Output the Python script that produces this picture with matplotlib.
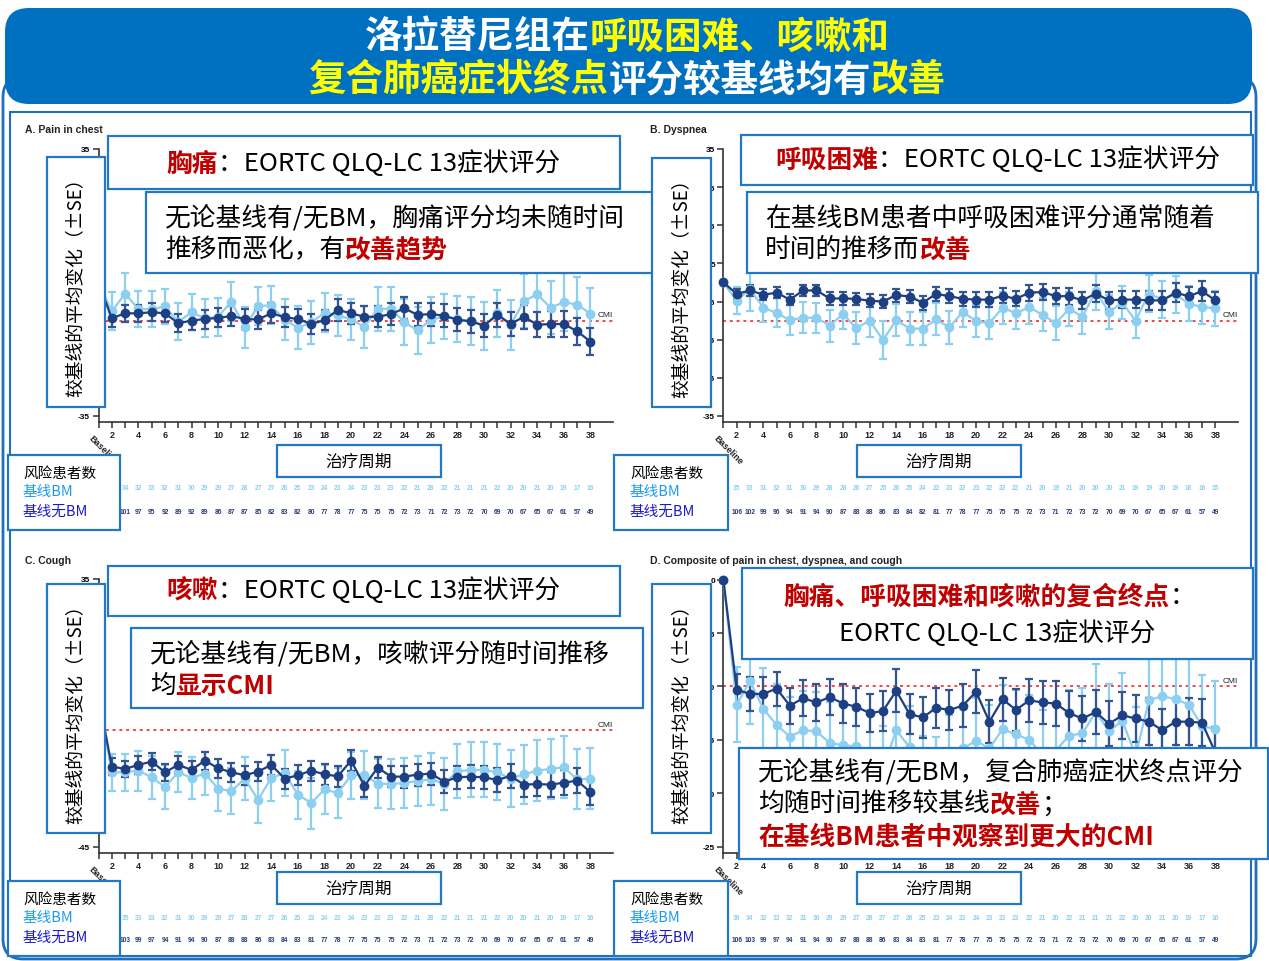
import numpy as np
import matplotlib
matplotlib.use("Agg")
import matplotlib.pyplot as plt
from matplotlib import transforms
from matplotlib.patches import FancyBboxPatch, Rectangle

plt.rcParams["font.family"] = ["Noto Sans CJK SC", "DejaVu Sans"]

# ---- data ----
cycles = np.arange(1, 39)  # 1 = Baseline, then cycles 2..38

pain_bm = [0, -7.6, -2.9, -7.0, -7.0, -6.3, -10.3, -7.8, -9.4, -9.0, -5.0, -11.8, -6.2, -6.0, -9.8, -11.9,
           -10.5, -7.9, -8.6, -9.7, -11.7, -7.0, -6.9, -10.4, -12.6, -9.8, -8.9, -9.6, -10.1, -11.4, -8.1,
           -11.1, -4.9, -3.1, -6.6, -5.2, -5.8, -8.2]
pain_bm_se = [0, 5.0, 5.4, 4.8, 4.8, 4.6, 4.8, 4.8, 5.0, 5.0, 5.2, 5.4, 5.0, 5.0, 5.4, 5.6, 5.6, 5.2, 5.4, 5.4,
              5.6, 5.8, 5.8, 6.0, 6.2, 6.0, 6.0, 6.0, 6.2, 6.4, 6.2, 6.6, 7.0, 7.4, 7.0, 7.6, 7.2, 6.8]
pain_nobm = [0, -9.4, -8.1, -8.1, -7.8, -8.1, -10.7, -10.0, -9.6, -9.3, -8.8, -9.6, -9.7, -8.1, -9.1, -9.6,
             -10.9, -9.9, -7.2, -8.1, -9.0, -9.0, -8.3, -6.8, -8.5, -8.3, -8.7, -9.8, -10.2, -11.3, -8.5,
             -10.9, -9.0, -11.1, -10.9, -10.9, -12.8, -15.5]
pain_nobm_se = [0, 2.4, 2.3, 2.3, 2.3, 2.3, 2.4, 2.4, 2.5, 2.5, 2.5, 2.6, 2.6, 2.6, 2.6, 2.7, 2.7, 2.7, 2.8, 2.8,
                2.8, 2.8, 2.9, 2.9, 3.0, 3.0, 3.0, 3.0, 3.1, 3.1, 3.1, 3.2, 3.2, 3.3, 3.3, 3.4, 3.5, 3.6]

dysp_bm = [0, -4.8, -1.8, -6.6, -8.0, -9.9, -9.2, -9.3, -11.3, -8.3, -12.0, -10.0, -15.1, -9.9, -12.1, -12.1,
           -9.7, -11.8, -7.7, -10.2, -10.7, -6.6, -8.1, -6.5, -8.5, -10.7, -6.9, -9.0, -2.3, -7.8, -5.3,
           -10.0, -2.9, -4.5, -3.1, -5.6, -6.4, -6.8]
dysp_bm_se = [0, 3.5, 5.7, 3.9, 3.8, 3.9, 4.0, 4.0, 4.2, 4.0, 4.2, 4.4, 5.1, 4.2, 4.4, 4.4, 4.2, 4.4, 4.0, 4.2,
              4.2, 4.2, 4.2, 4.3, 4.3, 4.4, 4.4, 4.5, 4.8, 4.5, 4.4, 4.6, 4.8, 4.8, 4.8, 4.6, 4.6, 4.5]
dysp_nobm = [0, -3.0, -2.1, -3.2, -2.7, -4.5, -2.1, -2.1, -4.2, -4.2, -4.3, -4.8, -5.0, -3.3, -3.7, -5.3,
             -3.0, -3.6, -4.3, -4.5, -4.5, -3.5, -4.3, -2.7, -2.5, -3.6, -3.6, -4.7, -2.9, -4.7, -4.5,
             -4.5, -4.7, -4.7, -2.7, -3.6, -2.3, -4.7]
dysp_nobm_se = [0, 1.3, 1.4, 1.4, 1.5, 1.5, 1.5, 1.5, 1.6, 1.6, 1.6, 1.7, 1.7, 1.7, 1.8, 1.8, 1.8, 1.9, 1.9, 1.9,
                1.9, 2.0, 2.0, 2.1, 2.1, 2.1, 2.2, 2.2, 2.2, 2.3, 2.3, 2.3, 2.4, 2.4, 2.5, 2.5, 2.6, 2.3]

cough_bm = [0, -22.7, -22.7, -22.2, -24.2, -27.1, -22.7, -24.4, -23.1, -27.6, -28.3, -24.6, -30.9, -24.4,
            -22.9, -29.4, -31.9, -27.8, -28.9, -23.6, -23.4, -26.1, -26.2, -25.9, -25.3, -24.8, -26.1,
            -22.4, -22.0, -22.0, -22.7, -24.6, -23.3, -22.2, -21.7, -21.2, -24.8, -24.6]
cough_bm_se = [0, 5.5, 5.5, 6.0, 6.5, 6.5, 6.0, 6.2, 6.5, 6.8, 6.8, 6.5, 7.0, 6.8, 6.8, 7.2, 7.6, 7.4, 7.4, 7.0,
               7.2, 7.4, 7.4, 7.6, 7.6, 7.8, 7.8, 8.0, 8.2, 8.2, 8.4, 8.6, 8.8, 9.0, 9.0, 9.2, 9.0, 9.0]
cough_nobm = [0, -21.0, -21.7, -20.5, -19.5, -22.7, -20.5, -22.0, -19.2, -21.5, -22.7, -23.6, -22.5, -20.5,
              -24.6, -23.6, -22.2, -23.3, -23.9, -19.2, -26.8, -21.3, -24.0, -24.0, -23.4, -23.1, -25.5,
              -24.2, -24.0, -24.2, -25.0, -23.8, -26.4, -26.2, -26.4, -25.8, -25.2, -28.6]
cough_nobm_se = [0, 2.5, 2.5, 2.6, 2.6, 2.6, 2.6, 2.7, 2.7, 2.8, 2.8, 2.8, 2.9, 2.9, 3.0, 3.0, 3.0, 3.1, 3.1, 3.1,
                 3.2, 3.2, 3.2, 3.3, 3.3, 3.3, 3.4, 3.4, 3.4, 3.5, 3.5, 3.5, 3.6, 3.6, 3.7, 3.7, 3.8, 4.0]

comp_bm = [0, -11.7, -9.5, -12.1, -13.6, -14.7, -14.1, -14.2, -15.3, -15.5, -15.6, -16.1, -17.7, -14.1,
           -15.7, -18.3, -18.7, -16.7, -15.8, -15.1, -15.8, -14.0, -14.5, -15.0, -16.4, -16.0, -14.6,
           -14.4, -12.4, -14.2, -13.2, -16.5, -11.3, -10.9, -11.2, -11.7, -13.7, -14.0]
comp_bm_se = [0, 3.5, 4.0, 3.8, 3.8, 3.7, 3.7, 3.7, 3.8, 3.8, 3.8, 3.9, 4.0, 3.9, 3.9, 3.7, 4.0, 4.0, 4.0, 4.0,
              4.1, 4.1, 4.2, 4.2, 4.2, 4.3, 4.3, 4.3, 4.5, 4.4, 4.5, 4.6, 5.0, 5.0, 5.0, 5.0, 4.8, 4.5]
comp_nobm = [0, -10.3, -10.7, -10.7, -10.2, -11.8, -11.1, -11.5, -11.0, -11.6, -11.9, -12.5, -12.3, -10.4,
             -12.6, -12.9, -12.0, -12.2, -11.8, -10.5, -13.3, -11.2, -12.2, -11.3, -11.5, -11.6, -12.5,
             -13.0, -12.4, -13.5, -12.7, -13.0, -13.3, -14.1, -13.3, -13.3, -13.4, -16.2]
comp_nobm_se = [0, 1.5, 1.6, 1.6, 1.6, 1.7, 1.7, 1.7, 1.7, 1.8, 1.8, 1.8, 1.9, 2.0, 1.9, 1.9, 1.9, 1.9, 2.0, 2.0,
                2.0, 2.0, 2.0, 2.0, 2.0, 2.1, 2.1, 2.1, 2.1, 2.1, 2.2, 2.2, 2.2, 2.0, 2.2, 2.2, 2.2, 2.4]

# patients at risk (visible part, ending at cycle 38)
pain_n_bm = [34, 32, 33, 32, 31, 30, 29, 29, 27, 28, 27, 27, 26, 25, 23, 24, 23, 24, 23, 23, 23, 22, 21, 28,
             22, 21, 21, 21, 22, 20, 20, 21, 20, 19, 17, 16]
pain_n_nobm = [101, 97, 95, 92, 89, 92, 89, 86, 87, 87, 85, 82, 83, 82, 80, 77, 78, 77, 75, 75, 75, 72, 73, 71,
               72, 73, 72, 70, 69, 70, 67, 65, 67, 61, 57, 49]
dysp_n_bm = [35, 33, 31, 32, 31, 30, 29, 28, 28, 26, 27, 25, 26, 25, 24, 22, 23, 22, 23, 22, 22, 22, 21, 20,
             19, 21, 20, 20, 20, 21, 19, 19, 20, 19, 18, 16, 15]
dysp_n_nobm = [106, 102, 99, 96, 94, 91, 94, 90, 87, 88, 88, 86, 83, 84, 82, 81, 77, 78, 77, 75, 75, 75, 72,
               73, 71, 72, 73, 72, 70, 69, 70, 67, 65, 67, 61, 57, 49]
cough_n_bm = [35, 33, 33, 32, 31, 30, 29, 29, 27, 28, 27, 27, 26, 25, 23, 24, 23, 24, 23, 23, 23, 22, 21, 28,
              22, 21, 21, 21, 22, 20, 20, 21, 20, 19, 17, 16]
cough_n_nobm = [103, 99, 97, 94, 91, 94, 90, 87, 88, 88, 86, 83, 84, 83, 81, 77, 78, 77, 75, 75, 75, 72, 73,
                71, 72, 73, 72, 70, 69, 70, 67, 65, 67, 61, 57, 49]
comp_n_bm = [36, 34, 32, 33, 32, 31, 30, 29, 29, 27, 28, 27, 27, 26, 25, 23, 24, 23, 24, 23, 23, 23, 22, 21,
             20, 22, 21, 21, 21, 22, 20, 20, 21, 20, 19, 17, 16]
comp_n_nobm = [106, 103, 99, 97, 94, 91, 94, 90, 87, 88, 88, 86, 83, 84, 83, 81, 77, 78, 77, 75, 75, 75, 72,
               73, 71, 72, 73, 72, 70, 69, 70, 67, 65, 67, 61, 57, 49]

cmi = -10

# ---- colours ----
DARK = "#1D3F84"
DARK_E = "#34558F"
LIGHT = "#8DCFF0"
RED = "#C00000"
BOXC = "#2277C7"
BANNER = "#0070C0"
C_BM = "#1A9BF0"
C_NOBM = "#1A1ACD"
EN = "Liberation Sans"

W, H = 1269, 962
fig = plt.figure(figsize=(W / 100, H / 100), dpi=100)
px = transforms.Affine2D().scale(1 / W, -1 / H).translate(0, 1) + fig.transFigure
rend = fig.canvas.get_renderer()


def box(x0, y0, x1, y1, z=1):
    fig.add_artist(Rectangle((x0, y0), x1 - x0, y1 - y0, transform=px, fc="white",
                             ec=BOXC, lw=1.6, zorder=z))


def rich(x, y, parts, size, ha="left"):
    arts, widths = [], []
    for s, c, w in parts:
        t = fig.text(0, 0, s, transform=px, fontsize=size, color=c, weight=w, va="center", ha="left")
        arts.append(t)
        widths.append(t.get_window_extent(rend).width)
    x0 = x - sum(widths) / 2 if ha == "center" else x
    for t, w in zip(arts, widths):
        t.set_position((x0, y))
        x0 += w


def panel(rect, ylim, yticks, shown, bm, bm_se, nobm, nobm_se, n_bm, n_nobm, row_y, title, title_xy):
    x0, y0, x1, y1 = rect
    ax = fig.add_axes([x0 / W, 1 - y1 / H, (x1 - x0) / W, (y1 - y0) / H])
    ax.axhline(cmi, color="#F04848", lw=1.4, ls=(0, (1.5, 2)), zorder=1)
    for y, e, col, ecol in [(bm, bm_se, LIGHT, LIGHT), (nobm, nobm_se, DARK, DARK_E)]:
        cont = ax.errorbar(cycles, y, yerr=e, fmt="-o", color=col, ecolor=ecol, ms=6, lw=1.6,
                           elinewidth=1.6, capsize=3.2, capthick=1.6, zorder=3)
        for a in cont.get_children():
            a.set_clip_on(False)
    ax.set_xlim(1, 39.7)
    ax.set_ylim(*ylim)
    ax.set_yticks(yticks)
    ax.set_yticklabels([str(v) if v in shown else "" for v in yticks],
                       fontsize=6, weight="bold", family=EN)
    ax.set_xticks(cycles)
    ax.set_xticklabels(["" if (c % 2 or c == 1) else str(c) for c in cycles],
                       fontsize=6.5, weight="bold", family=EN, color="#222222")
    for s in ["top", "right"]:
        ax.spines[s].set_visible(False)
    for s in ["left", "bottom"]:
        ax.spines[s].set_color("#333333")
        ax.spines[s].set_linewidth(1.2)
    ax.tick_params(direction="out", length=4, width=1.1, color="#333333", pad=2)
    ax.patch.set_alpha(0)
    ax.annotate("CMI", xy=(39.7, cmi), xytext=(0, 1.5), textcoords="offset points", ha="right",
                va="bottom", fontsize=6, family=EN, color="#222222")
    blend = transforms.blended_transform_factory(ax.transData, px)
    ax.text(0.4, y1 + 14, "Baseline", transform=blend, rotation=-45, rotation_mode="anchor",
            ha="left", va="center", fontsize=6.5, weight="bold", family=EN, color="#222222")
    for vals, ry, col in [(n_bm, row_y[0], "#8FCFF0"), (n_nobm, row_y[1], "#2A3E78")]:
        for c, v in zip(cycles[-len(vals):], vals):
            ax.text(c, ry, str(v), transform=blend, ha="center", va="center", fontsize=4.8,
                    weight="bold", family=EN, color=col)
    fig.text(title_xy[0], title_xy[1], title, transform=px, fontsize=7.5, weight="bold",
             family=EN, va="center", color="#222222")
    return ax


ticks_ab = [35, 25, 15, 5, -5, -15, -25, -35]
panel((98.5, 150, 613, 423), (-36.6, 35), ticks_ab, [35, -35],
      pain_bm, pain_bm_se, pain_nobm, pain_nobm_se, pain_n_bm, pain_n_nobm, (489, 512),
      "A. Pain in chest", (25, 130))
panel((723.4, 150, 1238, 423), (-36.6, 35), ticks_ab, ticks_ab,
      dysp_bm, dysp_bm_se, dysp_nobm, dysp_nobm_se, dysp_n_bm, dysp_n_nobm, (489, 512),
      "B. Dyspnea", (650, 130))
panel((98.5, 580, 613, 854), (-46.8, 35), [35, 25, 15, 5, -5, -15, -25, -35, -45], [35, -45],
      cough_bm, cough_bm_se, cough_nobm, cough_nobm_se, cough_n_bm, cough_n_nobm, (919, 941),
      "C. Cough", (25, 561))
panel((723.4, 580.7, 1238, 854), (-25.6, 0), [0, -5, -10, -15, -20, -25], [0, -5, -10, -15, -20, -25],
      comp_bm, comp_bm_se, comp_nobm, comp_nobm_se, comp_n_bm, comp_n_nobm, (919, 941),
      "D. Composite of pain in chest, dyspnea, and cough", (650, 561))

# ---- frames and banner ----
fig.add_artist(FancyBboxPatch((3, 78), 1253, 882, boxstyle="round,pad=0,rounding_size=20",
                              transform=px, fill=False, ec="#1F6FBF", lw=2, zorder=0.5))
fig.add_artist(Rectangle((10, 113), 1241, 844, transform=px, fill=False, ec="#1F6FBF", lw=1.5,
                         zorder=0.5))
fig.add_artist(FancyBboxPatch((5, 9), 1247, 96, boxstyle="round,pad=0,rounding_size=24",
                              transform=px, fc=BANNER, ec="none", zorder=2))
rich(627, 37, [("洛拉替尼组在", "white", "bold"), ("呼吸困难、咳嗽和", "#FFFF00", "bold")], 27, "center")
rich(627, 80, [("复合肺癌症状终点", "#FFFF00", "bold"), ("评分较基线均有", "white", "bold"),
               ("改善", "#FFFF00", "bold")], 27, "center")

# ---- overlay boxes ----
FS = 18.5
LW = "light"

# panel A
box(146, 193, 658, 274)
box(108, 137, 620, 190)
box(47, 158, 105, 408)
box(277, 446, 441, 478)
box(8, 456, 120, 531)
rich(363, 164, [("胸痛", RED, "bold"), ("：EORTC QLQ-LC 13症状评分", "black", LW)], FS, "center")
rich(165, 219, [("无论基线有/无BM，胸痛评分均未随时间", "black", LW)], FS)
rich(165, 250, [("推移而恶化，有", "black", LW), ("改善趋势", RED, "bold")], FS)

# panel B
box(652, 159, 711, 408)
box(741, 136, 1253, 186)
box(747, 193, 1258, 274)
box(857, 446, 1021, 478)
box(614, 456, 728, 531)
rich(998, 160, [("呼吸困难", RED, "bold"), ("：EORTC QLQ-LC 13症状评分", "black", LW)], FS, "center")
rich(765, 219, [("在基线BM患者中呼吸困难评分通常随着", "black", LW)], FS)
rich(765, 250, [("时间的推移而", "black", LW), ("改善", RED, "bold")], FS)

# panel C
box(131, 629, 643, 709)
box(108, 567, 620, 617)
box(47, 585, 105, 834)
box(277, 873, 441, 905)
box(8, 882, 120, 957)
rich(363, 591, [("咳嗽", RED, "bold"), ("：EORTC QLQ-LC 13症状评分", "black", LW)], FS, "center")
rich(150, 655, [("无论基线有/无BM，咳嗽评分随时间推移", "black", LW)], FS)
rich(150, 686, [("均", "black", LW), ("显示CMI", RED, "bold")], FS)

# panel D
box(652, 585, 711, 834)
box(742, 569, 1253, 660)
box(739, 749, 1268, 860)
box(857, 873, 1021, 905)
box(614, 882, 728, 957)
rich(989, 597, [("胸痛、呼吸困难和咳嗽的复合终点", RED, "bold"), ("：", "black", LW)], FS, "center")
rich(997, 634, [("EORTC QLQ-LC 13症状评分", "black", LW)], FS, "center")
rich(758, 773, [("无论基线有/无BM，复合肺癌症状终点评分", "black", LW)], FS)
rich(758, 805, [("均随时间推移较基线", "black", LW), ("改善", RED, "bold"), ("；", "black", LW)], FS)
rich(758, 837, [("在基线BM患者中观察到更大的CMI", RED, "bold")], FS)

# y-label, x-label and at-risk texts
for cx, (ya, yb) in [(76, (158, 408)), (681.5, (159, 408)), (76, (585, 834)), (681.5, (585, 834))]:
    fig.text(cx, (ya + yb) / 2, "较基线的平均变化（±SE）", transform=px, rotation=90, ha="center",
             va="center", fontsize=13.5, color="black", weight=LW)
for cx, cy in [(359, 462), (939, 462), (359, 889), (939, 889)]:
    fig.text(cx, cy, "治疗周期", transform=px, ha="center", va="center", fontsize=12, color="black",
             weight=LW)
for lx, ty in [(23, 474), (630, 474), (23, 900), (630, 900)]:
    fig.text(lx, ty, "风险患者数", transform=px, ha="left", va="center", fontsize=10.5, color="black",
             weight=LW)
    fig.text(lx, ty + 18, "基线BM", transform=px, ha="left", va="center", fontsize=10.5, color=C_BM,
             weight=LW)
    fig.text(lx, ty + 38, "基线无BM", transform=px, ha="left", va="center", fontsize=10.5, color=C_NOBM,
             weight=LW)

fig.savefig("out.png", dpi=100)
